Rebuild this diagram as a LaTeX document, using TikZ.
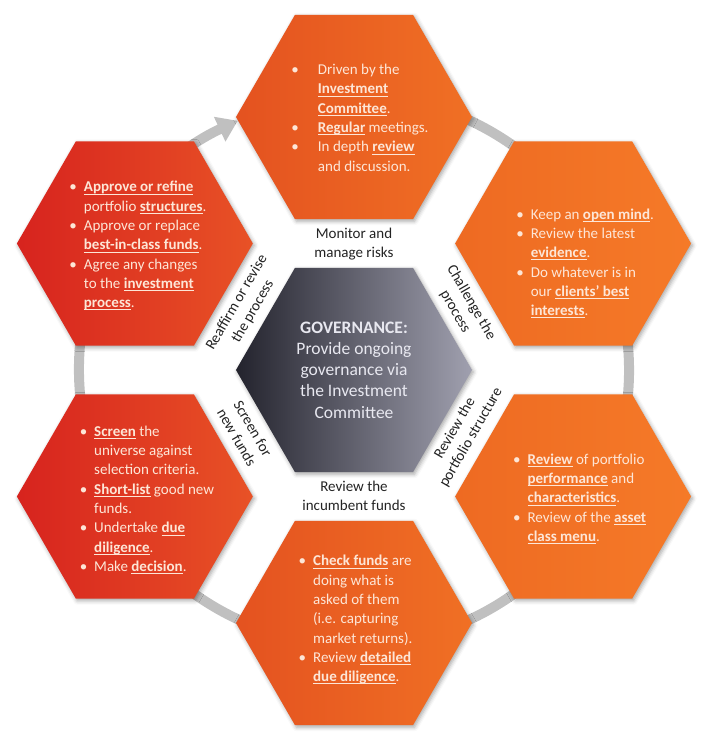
\documentclass[tikz,border=0pt]{standalone}
\usepackage{fontspec}
\setmainfont{Carlito}
\usetikzlibrary{arrows.meta, shapes.geometric, shadows.blur}

\definecolor{ringgray}{RGB}{192,192,192}
\definecolor{hextext}{RGB}{253,230,215}
\definecolor{labeltext}{RGB}{35,35,35}

\newsavebox\ulbox
\newcommand{\ulb}[1]{\sbox\ulbox{\bfseries #1}\rlap{\rule[-2.4pt]{\wd\ulbox}{0.7pt}}\usebox\ulbox}
\newcommand{\bl}{\textbullet}

\begin{document}
\begin{tikzpicture}[
    x=1pt, y=1pt,
    hexagon/.style={regular polygon, regular polygon sides=6, minimum size=236pt, inner sep=0pt,
      blur shadow={shadow xshift=1.5pt, shadow yshift=-2pt, shadow blur radius=4pt, shadow opacity=35}},
    hexleft/.style={hexagon, left color={rgb,255:red,215;green,35;blue,30}, right color={rgb,255:red,232;green,82;blue,38}},
    hexmid/.style={hexagon, left color={rgb,255:red,228;green,82;blue,32}, right color={rgb,255:red,240;green,112;blue,36}},
    hexright/.style={hexagon, left color={rgb,255:red,238;green,106;blue,34}, right color={rgb,255:red,245;green,122;blue,40}},
    govhex/.style={hexagon, left color={rgb,255:red,35;green,35;blue,45}, right color={rgb,255:red,160;green,160;blue,175}},
    bullets/.style={text=hextext, font=\fontsize{15}{19.3}\selectfont, inner sep=0pt},
    gaplabel/.style={text=labeltext, font=\fontsize{15}{18.5}\selectfont, align=center, inner sep=0pt},
    ring/.style={draw=ringgray, line width=10pt}
  ]
  \useasboundingbox (-354,-369) rectangle (355,370);

  % cycle ring behind the hexagons
  \draw[ring, -{Triangle[width=26pt,length=20pt]}] (100:275) arc[start angle=100, end angle=-245, radius=275pt];

  \node[govhex] (gov) at (0,0) {};
  \node[hexmid] (hexTop) at (90:253) {};
  \node[hexright] (hexRT) at (30:253) {};
  \node[hexright] (hexRB) at (-30:253) {};
  \node[hexmid] (hexBot) at (-90:253) {};
  \node[hexleft] (hexLB) at (-150:253) {};
  \node[hexleft] (hexLT) at (150:253) {};

  \node[text={rgb,255:red,232;green,232;blue,240}, font=\fontsize{17.5}{21.3}\selectfont, align=center, inner sep=0pt] (govText) at (gov) {
    \textbf{GOVERNANCE:}\\ Provide ongoing\\ governance via\\ the Investment\\ Committee};

  \node[bullets, xshift=6pt, yshift=-2pt] (txtTop) at (hexTop) {
    \begin{tabular}{@{}l@{\hspace{19pt}}l@{}}
      \bl & Driven by the \\
          & \ulb{Investment} \\
          & \ulb{Committee}. \\
      \bl & \ulb{Regular} meetings. \\
      \bl & In depth \ulb{review} \\
          & and discussion.
    \end{tabular}};
  \node[bullets, xshift=12pt, yshift=-20pt] (txtRT) at (hexRT) {
    \begin{tabular}{@{}l@{\hspace{7pt}}l@{}}
      \bl & Keep an \ulb{open mind}. \\
      \bl & Review the latest \\
          & \ulb{evidence}. \\
      \bl & Do whatever is in \\
          & our \ulb{clients’ best} \\
          & \ulb{interests}.
    \end{tabular}};
  \node[bullets, xshift=6.5pt, yshift=-2.5pt] (txtRB) at (hexRB) {
    \begin{tabular}{@{}l@{\hspace{7pt}}l@{}}
      \bl & \ulb{Review} of portfolio \\
          & \ulb{performance} and \\
          & \ulb{characteristics}. \\
      \bl & Review of the \ulb{asset} \\
          & \ulb{class menu}.
    \end{tabular}};
  \node[bullets, xshift=1.5pt, yshift=3pt] (txtBot) at (hexBot) {
    \begin{tabular}{@{}l@{\hspace{7pt}}l@{}}
      \bl & \ulb{Check funds} are \\
          & doing what is \\
          & asked of them \\
          & (i.e. capturing \\
          & market returns). \\
      \bl & Review \ulb{detailed} \\
          & \ulb{due diligence}.
    \end{tabular}};
  \node[bullets, xshift=12pt, yshift=-3.5pt] (txtLB) at (hexLB) {
    \begin{tabular}{@{}l@{\hspace{7pt}}l@{}}
      \bl & \ulb{Screen} the \\
          & universe against \\
          & selection criteria. \\
      \bl & \ulb{Short-list} good new \\
          & funds. \\
      \bl & Undertake \ulb{due} \\
          & \ulb{diligence}. \\
      \bl & Make \ulb{decision}.
    \end{tabular}};
  \node[bullets, xshift=3pt, yshift=-2.5pt] (txtLT) at (hexLT) {
    \begin{tabular}{@{}l@{\hspace{7pt}}l@{}}
      \bl & \ulb{Approve or refine} \\
          & portfolio \ulb{structures}. \\
      \bl & Approve or replace \\
          & \ulb{best-in-class funds}. \\
      \bl & Agree any changes \\
          & to the \ulb{investment} \\
          & \ulb{process}.
    \end{tabular}};

  % labels in the gaps round the centre
  \node[gaplabel] (lblTop) at (90:126) {Monitor and\\ manage risks};
  \node[gaplabel, rotate=-60] (lblRT) at (30:126) {Challenge the\\ process};
  \node[gaplabel, rotate=60] (lblRB) at (-30:126) {Review the\\ portfolio structure};
  \node[gaplabel] (lblBot) at (-90:126) {Review the\\ incumbent funds};
  \node[gaplabel, rotate=-60] (lblLB) at (-150:126) {Screen for\\ new funds};
  \node[gaplabel, rotate=60] (lblLT) at (150:126) {Reaffirm or revise\\ the process};
\end{tikzpicture}
\end{document}
